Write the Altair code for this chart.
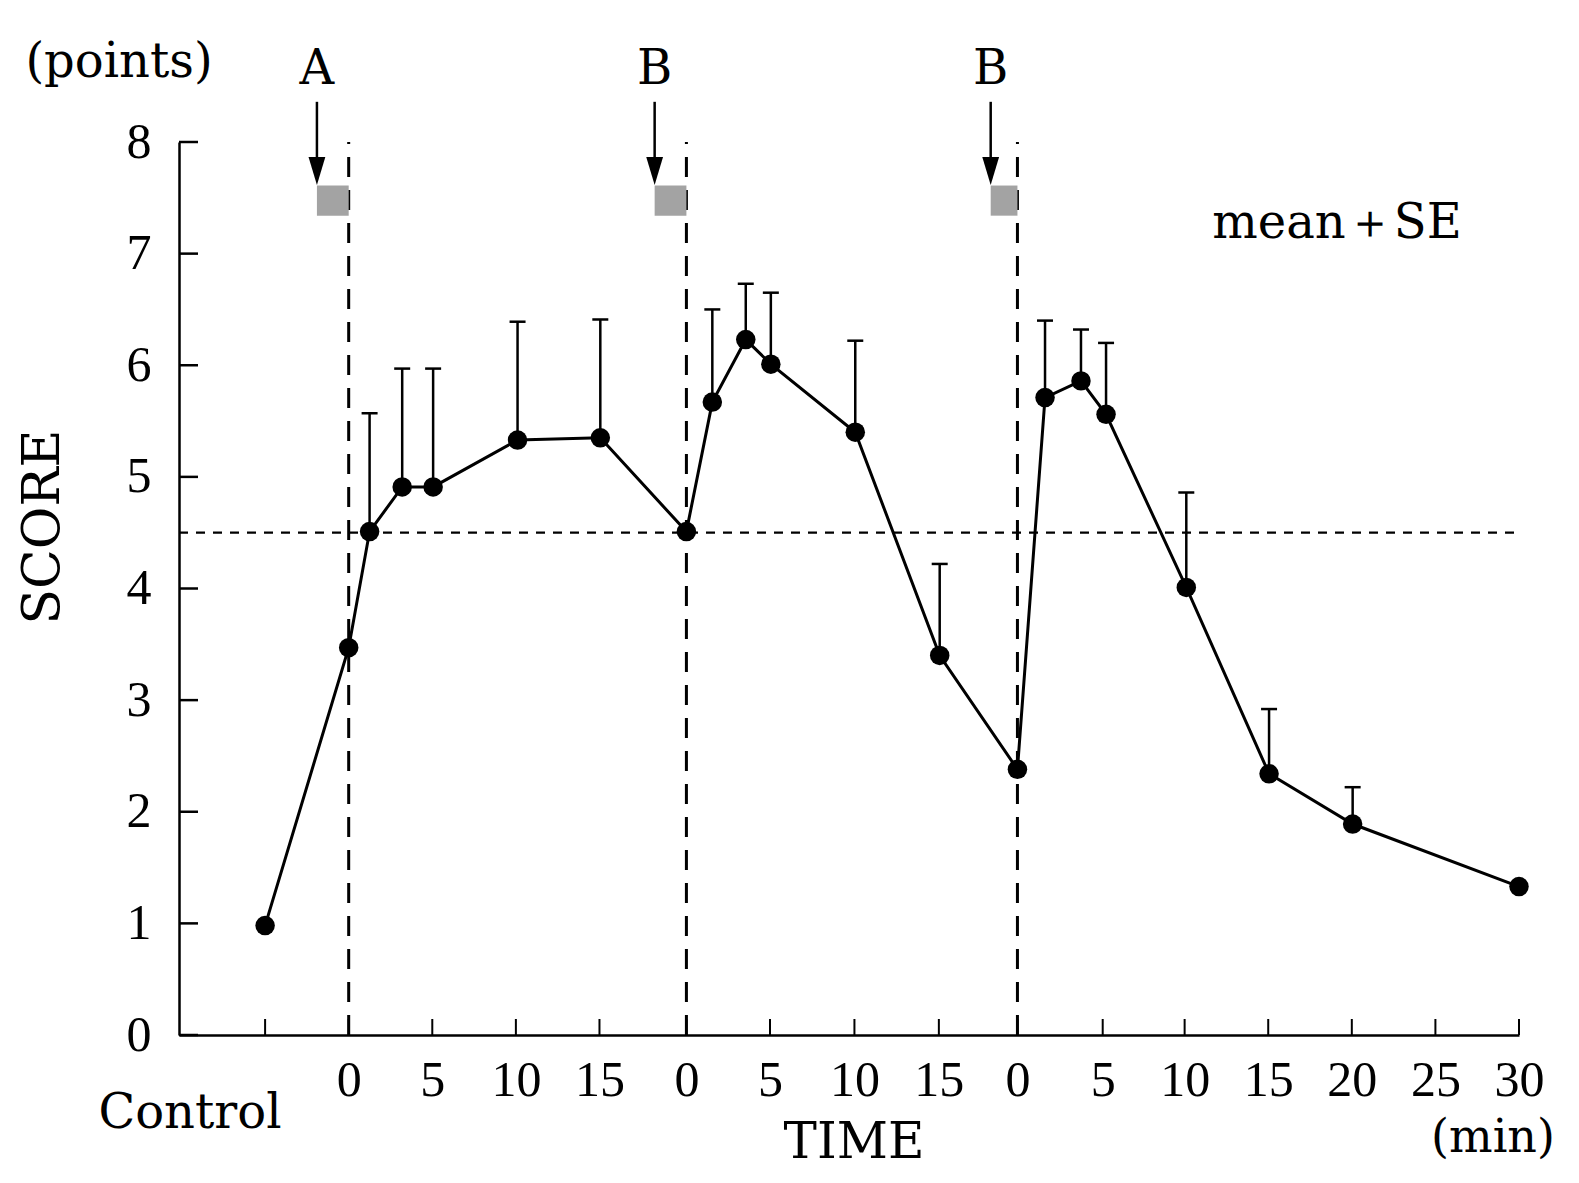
import altair as alt
import pandas as pd

# ---------------- data ----------------
# x positions are in axis "step" units (one step = one tick)
tick_pos = [0, 1, 2, 3, 4, 5.04, 6.04, 7.05, 8.06, 9, 10.02, 11, 12, 13, 14, 15]
tick_lab = ["", "0", "5", "10", "15", "0", "5", "10", "15", "0", "5", "10", "15", "20", "25", "30"]
y_ticks = [0, 1, 2, 3, 4, 5, 6, 7, 8]

pt_x = [0, 1, 1.25, 1.64, 2.01, 3.02, 4.01, 5.04, 5.35, 5.75, 6.05, 7.06, 8.07,
        9.0, 9.33, 9.76, 10.06, 11.02, 12.01, 13.01, 15]
pt_y = [0.98, 3.47, 4.51, 4.91, 4.91, 5.33, 5.35, 4.51, 5.67, 6.23, 6.01, 5.40, 3.40,
        2.38, 5.71, 5.86, 5.56, 4.01, 2.34, 1.89, 1.33]

err_x = [1.25, 1.64, 2.01, 3.02, 4.01, 5.35, 5.75, 6.05, 7.06, 8.07, 9.33, 9.76, 10.06, 11.02, 12.01, 13.01]
err_mean = [4.51, 4.91, 4.91, 5.33, 5.35, 5.67, 6.23, 6.01, 5.40, 3.40, 5.71, 5.86, 5.56, 4.01, 2.34, 1.89]
err_top = [5.57, 5.97, 5.97, 6.39, 6.41, 6.50, 6.73, 6.65, 6.22, 4.22, 6.40, 6.32, 6.20, 4.86, 2.92, 2.22]

baseline_score = [4.5]
dose_x = [1, 5.04, 9.0]              # dashed lines (administration time 0)
int_label = ["A", "B", "B"]
int_x = [0.62, 4.66, 8.68]           # arrows
shade_lo = [7.34, 7.34, 7.34]
shade_hi = [7.61, 7.61, 7.61]
arrow_top = [8.36, 8.36, 8.36]
arrow_bot = [7.83, 7.83, 7.83]
arrow_head = [7.74, 7.74, 7.74]

# ---------------- layout ----------------
W, H = 1340, 893
XMIN, XMAX = -1.03, 15
SERIF = "DejaVu Serif"
NUMF = "Liberation Serif"

pts = pd.DataFrame({"x": pt_x, "y": pt_y})
errs = pd.DataFrame({"x": err_x, "lo": err_mean, "hi": err_top})
ticks_df = pd.DataFrame({"x": tick_pos})
yt_df = pd.DataFrame({"y": y_ticks})
doses = pd.DataFrame({"x": dose_x})
ints = pd.DataFrame({"x": int_x, "x2": dose_x, "lab": int_label, "lo": shade_lo,
                     "hi": shade_hi, "top": arrow_top, "bot": arrow_bot, "head": arrow_head})
base_df = pd.DataFrame({"y": baseline_score})

label_expr = ("[" + ",".join("'" + l + "'" for l in tick_lab) + "][indexof(["
              + ",".join(str(v) for v in tick_pos) + "], datum.value)]")

x_axis = alt.Axis(values=tick_pos, labelExpr=label_expr, ticks=False, tickSize=0, grid=False,
                  domainColor="black", domainWidth=2.5, labelFont=NUMF, labelFontSize=50,
                  labelColor="black", labelPadding=20, title=None, labelFlush=False,
                  labelOverlap=False, labelBound=False)
y_axis = alt.Axis(values=y_ticks, ticks=False, tickSize=0, grid=False, domainColor="black",
                  domainWidth=2.5, labelFont=NUMF, labelFontSize=50, labelColor="black",
                  labelPadding=28, title=None, labelFlush=False, labelOverlap=False)
xs = alt.Scale(domain=[XMIN, XMAX], nice=False, zero=False)
ys = alt.Scale(domain=[0, 8], nice=False, zero=False)


def X(f):
    return alt.X(f, type="quantitative", scale=xs, axis=x_axis)


def Y(f):
    return alt.Y(f, type="quantitative", scale=ys, axis=y_axis)


hline = alt.Chart(base_df).mark_rule(color="black", strokeWidth=2.2, strokeDash=[9, 8]).encode(
    x=alt.value(0), x2=alt.value(W), y=Y("y"))

vlines = alt.Chart(doses).mark_rule(color="black", strokeWidth=3, strokeDash=[20, 13]).encode(
    x=X("x"), y=alt.value(H), y2=alt.value(0))

shade = alt.Chart(ints).mark_rect(color="#a3a3a3").encode(
    x=X("x"), x2="x2", y=Y("lo"), y2="hi")

shaft = alt.Chart(ints).mark_rule(color="black", strokeWidth=2.5).encode(
    x=X("x"), y=Y("top"), y2="bot")

head = alt.Chart(ints).mark_point(shape="M-0.6,-1L0.6,-1L0,1Z", filled=True, color="black",
                                  opacity=1, size=784).encode(x=X("x"), y=Y("head"))

int_text = alt.Chart(ints).mark_text(font=SERIF, fontSize=48, color="black",
                                     baseline="middle", align="center").encode(
    x=X("x"), y=alt.value(-72), text="lab")

stems = alt.Chart(errs).mark_rule(color="black", strokeWidth=2.5).encode(
    x=X("x"), y=Y("lo"), y2="hi")

caps = alt.Chart(errs).mark_rule(color="black", strokeWidth=2.5, xOffset=-8, x2Offset=8).encode(
    x=X("x"), x2="x", y=Y("hi"))

line = alt.Chart(pts).mark_line(color="black", strokeWidth=3).encode(x=X("x"), y=Y("y"))

dots = alt.Chart(pts).mark_circle(color="black", opacity=1, size=380).encode(x=X("x"), y=Y("y"))

xt = alt.Chart(ticks_df).mark_rule(color="black", strokeWidth=2).encode(
    x=X("x"), y=alt.value(H), y2=alt.value(H - 16))

yt = alt.Chart(yt_df).mark_rule(color="black", strokeWidth=2.5).encode(
    y=Y("y"), x=alt.value(0), x2=alt.value(19))


def label(txt, px, py, size=48, angle=0, font=SERIF):
    return alt.Chart(pd.DataFrame({"t": [txt]})).mark_text(
        font=font, fontSize=size, color="black", baseline="middle", align="center",
        angle=angle).encode(x=alt.value(px), y=alt.value(py), text="t")


texts = [
    label("(points)", -60, -79, 48),
    label("mean＋SE", 1158, 82, 48),
    label("Control", 11, 972, 48),
    label("TIME", 675, 1001, 50),
    label("(min)", 1314, 996, 46),
    label("SCORE", -136, 385, 52, angle=270),
]

chart = alt.layer(hline, vlines, shade, shaft, head, int_text, stems, caps, line, dots,
                  xt, yt, *texts).properties(
    width=W, height=H, background="white",
    autosize=alt.AutoSizeParams(type="none"),
    padding={"left": 171, "top": 134, "right": 45, "bottom": 134},
).configure_view(stroke=None)

chart.save("out.html", embed_options={"renderer": "svg", "actions": False})
